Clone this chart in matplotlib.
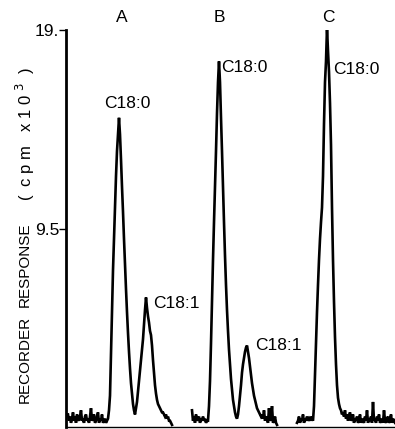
import numpy as np
import matplotlib
matplotlib.use('Agg')
import matplotlib.pyplot as plt

plt.rcParams['font.family'] = ['Liberation Sans', 'DejaVu Sans']

# Recorder traces, one reading per time step (cpm x 10^3)
start_a = 2
trace_a = [0.6, 0.3, 0.5, 0.2, 0.4, 0.7, 0.3, 0.5, 0.2, 0.6,
           0.4, 0.3, 0.5, 0.8, 0.3, 0.4, 0.2, 0.5, 0.6, 0.3,
           0.4, 0.2, 0.5, 0.9, 0.3, 0.4, 0.6, 0.2, 0.3, 0.5,
           0.7, 0.2, 0.4, 0.3, 0.6, 0.2, 0.3, 0.4, 0.2, 0.3,
           0.4, 0.8, 1.5, 3.5, 5.5, 7.5, 9.0, 10.5, 12.0, 13.2,
           14.0, 14.8, 14.0, 12.8, 11.5, 10.3, 9.0, 7.8, 6.6, 5.5,
           4.5, 3.6, 2.8, 2.1, 1.6, 1.1, 0.8, 0.6, 0.9,
           1.2, 1.7, 2.2, 2.7, 3.2, 3.7, 4.2, 4.9, 5.6, 6.2,
           5.7, 5.3, 5.0, 4.6, 4.4, 3.9, 3.2, 2.6, 2.0, 1.6,
           1.3, 1.1, 1.0, 0.9, 0.8, 0.7, 0.7, 0.6, 0.5, 0.6,
           0.4, 0.5, 0.3, 0.3, 0.2, 0.1]

start_b = 126
trace_b = [0.8, 0.3, 0.5, 0.2, 0.6, 0.3, 0.4, 0.5, 0.2, 0.4,
           0.3, 0.5, 0.3, 0.4, 0.2, 0.3,
           0.3, 1.0, 2.2, 4.0, 6.0, 8.0, 9.8, 11.5, 13.2, 15.0,
           16.5, 17.5, 16.5, 14.8, 13.2, 11.5, 9.8, 8.2, 6.8, 5.6,
           4.6, 3.7, 3.0, 2.3, 1.8, 1.3, 1.0, 0.7, 0.5, 0.4,
           0.6, 1.0, 1.5, 2.0, 2.6, 3.0, 3.3, 3.6, 3.8, 3.9,
           3.6, 3.3, 2.9, 2.5, 2.1, 1.8, 1.5, 1.3, 1.1, 0.9,
           0.8, 0.7, 0.6, 0.5, 0.6, 0.4, 0.8, 0.3, 0.5, 0.4,
           0.2, 0.9, 0.3, 0.4, 1.0, 0.2, 0.3, 0.5, 0.2, 0.1]

start_c = 231
trace_c = [0.2, 0.3, 0.5, 0.2, 0.4, 0.3, 0.6, 0.2, 0.4, 0.3,
           0.5, 0.3, 0.4, 0.3, 0.5, 0.4,
           0.3, 1.0, 2.5, 4.0, 5.5, 6.8, 8.0, 9.0, 9.8, 10.5,
           12.0, 14.5, 16.5, 17.5, 19.1, 18.0, 17.0, 15.5, 13.5, 10.5,
           8.0, 6.0, 4.3, 3.0, 2.0, 1.4, 1.1, 0.9, 0.8, 0.6,
           0.7, 0.5, 0.8, 0.4, 0.6, 0.3, 0.5, 0.7, 0.3, 0.4,
           0.6, 0.2, 0.4, 0.3, 0.5, 0.2, 0.3, 0.6, 0.2, 0.4,
           0.3, 0.2, 0.5, 0.3, 0.8, 0.2, 0.4, 0.3, 0.5, 0.2,
           1.2, 0.3, 0.4, 0.2, 0.5, 0.3, 0.6, 0.2, 0.3, 0.4,
           0.2, 0.8, 0.3, 0.2, 0.4, 0.5, 0.2, 0.3, 0.6, 0.2,
           0.4, 0.3, 0.2]

panel_labels = ['A', 'B', 'C']
panel_x = [56, 153, 262]
peak_labels = [('C18:0', 38, 15.5), ('C18:1', 87, 5.9),
               ('C18:0', 155, 17.2), ('C18:1', 189, 3.9),
               ('C18:0', 267, 17.1)]
yticks = [9.5, 19]
yticklabels = ['9.5', '19.']
# y label pieces, placed like the original lettering
ylabel_parts = ['RECORDER', 'RESPONSE', '(  c p m   x 1 0 $^3$  )']
ylabel_centers = [359, 265, 134]
ylabel_sizes = [11, 11, 12]

fig = plt.figure(figsize=(3.95, 4.29), dpi=100)
ax = fig.add_axes([66 / 395, 2 / 429, 329 / 395, 397 / 429])

for start, tr in [(start_a, trace_a), (start_b, trace_b), (start_c, trace_c)]:
    xs = start + np.arange(len(tr))
    ax.plot(xs, tr, color='black', lw=1.9, solid_joinstyle='miter')

ax.set_xlim(0, 329)
ax.set_ylim(0, 19)
ax.spines['top'].set_visible(False)
ax.spines['right'].set_visible(False)
ax.spines['left'].set_linewidth(2)
ax.spines['bottom'].set_linewidth(1)
ax.set_xticks([])
ax.set_yticks(yticks)
ax.set_yticklabels(yticklabels, fontsize=12.5)
ax.tick_params(axis='y', length=5, width=1, pad=0)

for part, yc, fs in zip(ylabel_parts, ylabel_centers, ylabel_sizes):
    fig.text(25 / 395, 1 - yc / 429, part, rotation=90, fontsize=fs,
             ha='center', va='center')

for lab, px in zip(panel_labels, panel_x):
    ax.text(px, 19.6, lab, fontsize=12.5, ha='center', va='center', clip_on=False)

for lab, px, py in peak_labels:
    ax.text(px, py, lab, fontsize=12.5, ha='left', va='center')

fig.savefig('out.png', dpi=100)
